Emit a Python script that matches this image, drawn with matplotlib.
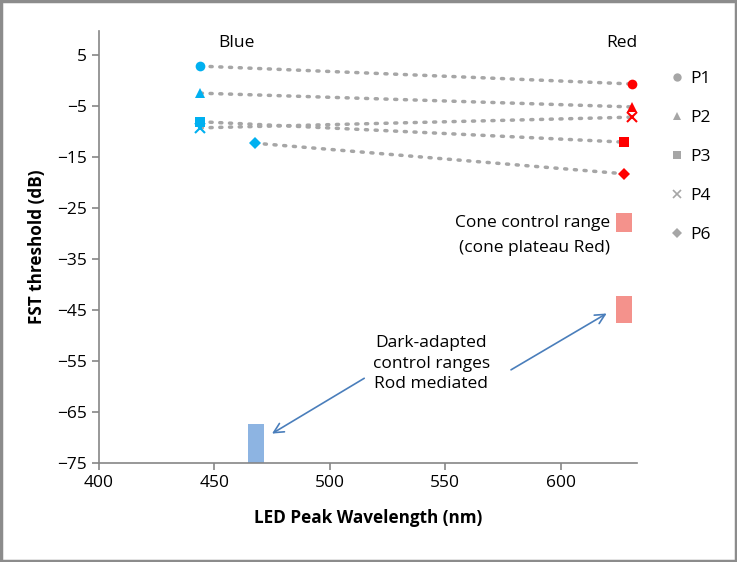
import matplotlib
matplotlib.use('Agg')
import matplotlib.pyplot as plt
from matplotlib.patches import Rectangle
from matplotlib.lines import Line2D

# participants and thresholds (dB) at blue / red LED
patients = ['P1', 'P2', 'P3', 'P4', 'P6']
markers = ['o', '^', 's', 'x', 'D']
blue_x = [444, 444, 444, 444, 467.5]
blue_y = [2.8, -2.5, -8.1, -9.3, -12.3]
red_x = [631, 631, 627.5, 631, 627.5]
red_y = [-0.7, -5.2, -12.1, -7.2, -18.3]

# control ranges: (x left, x right, y low, y high)
cone_range = (624, 631, -29.7, -26.0)
dark_red_range = (624, 631, -47.5, -42.3)
dark_blue_range = (464.5, 471.5, -75, -67.4)

plt.rcParams['font.family'] = ['Open Sans', 'DejaVu Sans']

fig = plt.figure(figsize=(7.37, 5.62), dpi=100)
ax = fig.add_axes([0.134, 0.176, 0.73, 0.769])

for i in range(len(patients)):
    ax.plot([blue_x[i], red_x[i]], [blue_y[i], red_y[i]], color='#A6A6A6',
            linestyle=(0, (0.6, 2.2)), lw=2.5, dash_capstyle='round', zorder=1)
    ms = 7 if markers[i] != 'D' else 6
    mew = 1.5 if markers[i] == 'x' else 0
    ax.plot(blue_x[i], blue_y[i], marker=markers[i], color='#00B0F0', ms=ms,
            mew=mew, linestyle='none', zorder=3)
    ax.plot(red_x[i], red_y[i], marker=markers[i], color='#FF0000', ms=ms,
            mew=mew, linestyle='none', zorder=3)

for (x0, x1, y0, y1), c in [(cone_range, '#F4928C'), (dark_red_range, '#F4928C'),
                            (dark_blue_range, '#8DB4E2')]:
    ax.add_patch(Rectangle((x0, y0), x1 - x0, y1 - y0, color=c, lw=0, zorder=2))

ax.set_xlim(400, 633)
ax.set_ylim(-75, 9.7)
ax.set_xticks([400, 450, 500, 550, 600])
ax.set_yticks(list(range(5, -76, -10)))
for s in ['top', 'right']:
    ax.spines[s].set_visible(False)
for s in ['left', 'bottom']:
    ax.spines[s].set_color('#868686')
    ax.spines[s].set_linewidth(1.2)
ax.tick_params(colors='#868686', labelcolor='black', labelsize=12.5, length=5, width=1.2)
ax.set_xlabel('LED Peak Wavelength (nm)', fontsize=12.3, fontweight='bold', labelpad=13)
ax.set_ylabel('FST threshold (dB)', fontsize=12.3, fontweight='bold', labelpad=8)

ax.text(459.5, 7.4, 'Blue', fontsize=12.5, ha='center', va='center')
ax.text(626.5, 7.4, 'Red', fontsize=12.5, ha='center', va='center')
ax.text(621.5, -30.4, 'Cone control range\n(cone plateau Red)', fontsize=12.5,
        ha='right', va='center', linespacing=1.75)
ax.text(544, -55.5, 'Dark-adapted\ncontrol ranges\nRod mediated', fontsize=12.5,
        ha='center', va='center', linespacing=1.35)

arrow = dict(arrowstyle='->,head_length=0.7,head_width=0.35', color='#4A7EBB', lw=1.2)
ax.annotate('', xy=(621, -45.4), xytext=(577.5, -57), arrowprops=arrow)
ax.annotate('', xy=(474, -69.5), xytext=(516, -58.1), arrowprops=arrow)

handles = [Line2D([], [], marker=m, color='#A6A6A6', linestyle='none',
                  ms=6 if m != 'D' else 5, mew=1.2 if m == 'x' else 0) for m in markers]
fig.legend(handles, patients, loc='upper left', bbox_to_anchor=(0.885, 0.902),
           frameon=False, fontsize=12.5, labelspacing=1.32, handletextpad=0.3,
           handlelength=1.0)

fig.add_artist(Rectangle((0.002, 0.002), 0.996, 0.996, transform=fig.transFigure,
                         fill=False, edgecolor='#8C8C8C', lw=2.5))

fig.savefig('out.png', dpi=100)
